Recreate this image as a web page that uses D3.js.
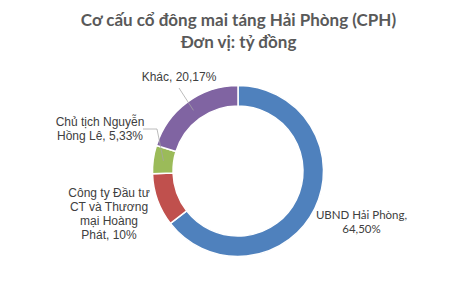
<!DOCTYPE html>
<html>
<head>
<meta charset="utf-8">
<script src="https://cdn.jsdelivr.net/npm/d3@7"></script>
<style>
  body { margin: 0; background: #fff; }
</style>
</head>
<body>
<div id="chart"></div>
<script>
const titleLines = ["Cơ cấu cổ đông mai táng Hải Phòng (CPH)", "Đơn vị: tỷ đồng"];
const categories = ["UBND Hải Phòng", "Công ty Đầu tư CT và Thương mại Hoàng Phát", "Chủ tịch Nguyễn Hồng Lê", "Khác"];
const values = [64.50, 10, 5.33, 20.17];
const labelLines = [
  ["UBND Hải Phòng,", "64,50%"],
  ["Công ty Đầu tư", "CT và Thương", "mại Hoàng", "Phát, 10%"],
  ["Chủ tịch Nguyễn", "Hồng Lê, 5,33%"],
  ["Khác, 20,17%"]
];
const colors = ["#4f81bd", "#c0504d", "#9bbb59", "#8064a2"];

const width = 476, height = 286;
const cx = 238, cy = 171;
const outerR = 85.5, innerR = 65;

const svg = d3.select('#chart').append('svg')
  .attr('width', width)
  .attr('height', height);

// titulo
svg.append('g')
  .selectAll('text')
  .data(titleLines)
  .enter().append('text')
  .attr('x', 238.5)
  .attr('y', (d, i) => 26 + i * 22)
  .attr('text-anchor', 'middle')
  .attr('font-family', 'Lato, sans-serif')
  .attr('font-weight', 'bold')
  .attr('font-size', '17px')
  .attr('fill', '#595959')
  .text(d => d);

const pie = d3.pie().sort(null).value(d => d);
const arcs = pie(values);
const arc = d3.arc().innerRadius(innerR).outerRadius(outerR);

const g = svg.append('g').attr('transform', `translate(${cx},${cy})`);

g.selectAll('path')
  .data(arcs)
  .enter().append('path')
  .attr('d', arc)
  .attr('fill', (d, i) => colors[i])
  .attr('stroke', '#fff')
  .attr('stroke-width', 1.5);

// etiquetas: ancla (x, y) del bloque de texto, relativa al svg
const labelPos = [
  { x: 361.5, y: 215, font: 'Lato, sans-serif', size: 11.5 },
  { x: 109, y: 193, font: 'Liberation Sans, Arial, sans-serif', size: 12 },
  { x: 100, y: 122, font: 'Liberation Sans, Arial, sans-serif', size: 12 },
  { x: 179, y: 77, font: 'Liberation Sans, Arial, sans-serif', size: 12 }
];

// lineas guia para los segmentos pequeños
const leaders = [
  null,
  null,
  c => [[143, 129], [157, 129], c],
  c => [[179, 88], c]
];

arcs.forEach((a, i) => {
  const c = arc.centroid(a);
  const pt = [c[0] + cx, c[1] + cy];
  if (leaders[i]) {
    svg.append('path')
      .attr('d', d3.line()(leaders[i](pt)))
      .attr('fill', 'none')
      .attr('stroke', '#a6a6a6')
      .attr('stroke-width', 0.75);
  }
  const p = labelPos[i];
  svg.append('g')
    .selectAll('text')
    .data(labelLines[i])
    .enter().append('text')
    .attr('x', p.x)
    .attr('y', (d, j) => p.y + j * 14)
    .attr('dy', '0.35em')
    .attr('text-anchor', 'middle')
    .attr('font-family', p.font)
    .attr('font-size', p.size + 'px')
    .attr('fill', '#404040')
    .text(d => d);
});
</script>
</body>
</html>
